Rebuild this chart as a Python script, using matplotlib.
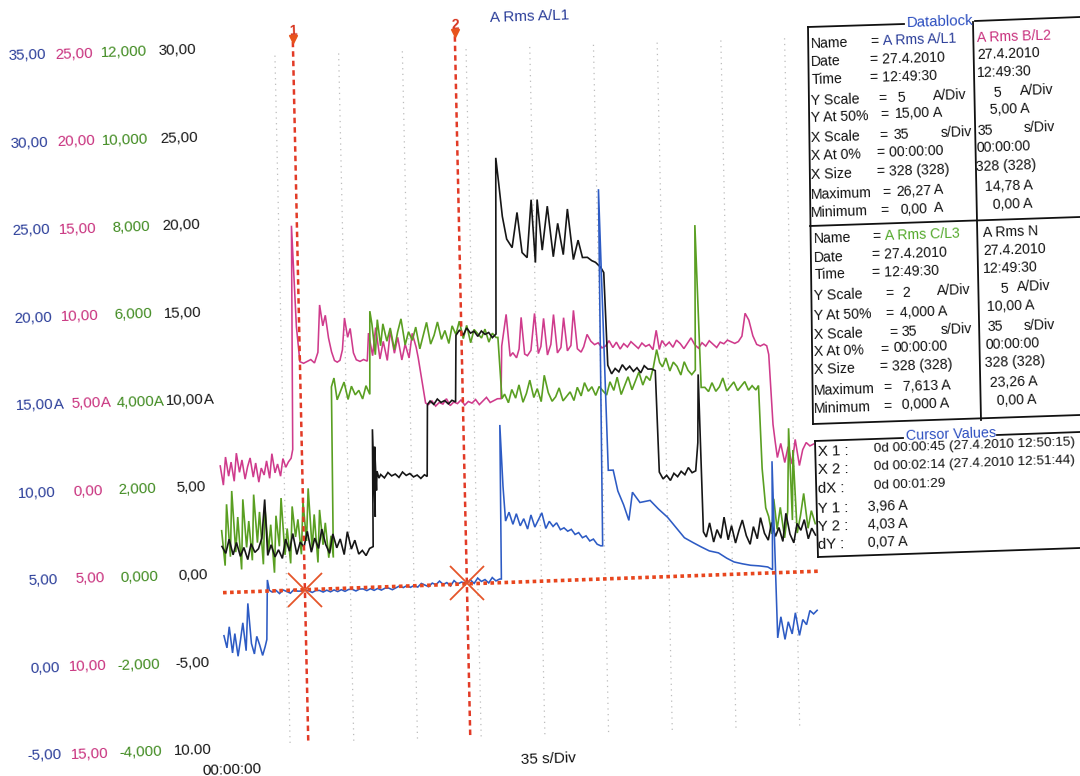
import numpy as np
import matplotlib
matplotlib.use("Agg")
import matplotlib.pyplot as plt
from matplotlib.transforms import Affine2D, blended_transform_factory, IdentityTransform
from matplotlib.lines import Line2D

plt.rcParams['font.family'] = ['Liberation Sans', 'DejaVu Sans']

W, H = 1080, 776

# ---------------- data (time in s, value in A) ----------------
L1 = [(0,1.5),(1.5,0.8),(3,2.0),(4.5,0.5),(6,1.6),(7.5,0.3),(9,1.2),(10.5,2.2),(12,0.6),(13.5,3.3),
      (15,1.0),(16.5,0.4),(18,1.4),(19.5,0.9),(21,0.3),(22.5,0.8),(23.5,1.2),(24.5,4.6),(25.5,4.0),
      (27,3.9),(29,4.0),(31,3.8),(33,4.0),(35,3.9),(37,3.8),(39,4.0),(41,3.9),(43,3.9),(45,3.96),
      (47,3.9),(49,3.8),(51,3.9),(53,3.9),(55,3.8),(57,3.9),(59,3.8),(61,3.9),(63,3.8),(65,3.9),
      (67,3.8),(69,3.9),(71,3.9),(73,3.8),(75,3.9),(77,3.9),(79,3.8),(81,3.9),(83,3.8),(85,3.9),
      (87,3.8),(89,3.9),(91,3.9),(93,3.8),(95,3.9),(97,4.0),(99,3.9),(101,4.0),(103,3.9),(105,4.0),
      (107,3.9),(109,4.1),(111,4.0),(113,3.9),(115,4.1),(117,4.0),(119,4.2),(121,4.0),(123,4.1),
      (125,3.9),(127,4.2),(129,4.0),(131,4.1),(134,4.03),(136,4.2),(138,4.0),(140,4.3),(142,4.1),
      (144,4.2),(146,4.0),(148,4.3),(150,4.1),(152,4.2),(153,4.2),(154,13.0),(155,9.5),(156,7.5),
      (158,8.0),(160,7.3),(162,7.9),(164,7.2),(166,7.6),(168,7.0),(170,7.8),(172,7.1),(174,7.5),
      (176,7.9),(178,7.0),(180,7.4),(182,7.1),(184,7.3),(186,6.9),(188,7.0),(190,6.8),(192,6.9),
      (194,6.6),(196,6.7),(198,6.4),(200,6.5),(202,6.2),(204,6.3),(206,6.0),(208,5.9),(209,5.9),
      (211,26.27),(213,10.2),(215.7,10.2),(218,9.0),(221,8.2),(223.7,7.3),(226,8.9),(230,8.3),
      (235.6,8.4),(240,7.9),(245,7.4),(249.5,6.8),(254,6.2),(258.8,5.9),(263,5.65),(267.5,5.4),
      (272.5,5.27),(277,4.95),(281,4.72),(285.5,4.6),(290,4.5),(294.6,4.45),(299.4,4.37),(302,4.2),
      (303,10.4),(304,0.3),(306,1.5),(308,0.2),(310,1.2),(312,0.5),(314,1.7),(316,0.4),(318,1.3),
      (320,1.0),(322,1.8),(324,1.6),(326,1.8)]

L2 = [(0,1.2),(1.5,0.1),(3,1.7),(4.5,0.6),(6,1.4),(7.5,0.3),(9,1.9),(10.5,0.8),(12,1.5),(13.5,0.4),
      (15,1.1),(16.5,1.6),(18,0.5),(19.5,1.3),(21,0.2),(22.5,1.0),(24,0.6),(25.5,1.4),(27,0.4),
      (28.5,1.8),(30,0.7),(31.5,1.2),(33,0.5),(34.5,1.5),(36,1.0),(37.5,1.3),(39,1.5),(40,2.0),
      (42,14.78),(43.5,9.0),(45,7.0),(47,6.9),(49,7.0),(51,7.1),(53,6.9),(55,7.5),(56.5,10.2),
      (58,9.0),(59.5,9.6),(61,8.3),(62.5,7.5),(64,7.0),(65.5,6.9),(67,7.0),(68.5,7.6),(70,9.4),
      (71.5,8.3),(73,8.8),(74.5,7.4),(76,7.0),(78,6.9),(80,7.0),(82,6.9),(83,8.5),(85,7.2),(87,8.8),
      (89,7.0),(91,8.0),(93,6.9),(95,8.6),(97,7.3),(99,8.2),(101,6.9),(103,7.8),(105,7.0),(107,8.4),
      (109,7.6),(110,7.0),(112,5.5),(113.5,4.4),(115,4.3),(117,4.5),(119,4.2),(121,4.4),(123,4.3),
      (125,4.6),(127,4.2),(129,4.4),(131,4.3),(133,4.5),(135,4.2),(137,4.4),(139,4.3),(141,4.5),
      (143,4.2),(145,4.4),(147,4.6),(149,4.3),(151,4.4),(153,4.5),(155,4.5),(156,7.5),(158.8,9.3),
      (160.5,6.9),(162,7.1),(164,6.8),(165.5,7.3),(167,9.1),(168.5,7.0),(170,6.9),(172,7.2),
      (174.4,9.3),(176,7.0),(177.5,7.4),(179.3,9.0),(181,6.9),(183,7.5),(184.8,9.2),(186.5,7.0),
      (188.5,7.3),(190.3,9.0),(192,7.1),(194,7.4),(195.8,9.4),(197.5,7.2),(199.5,7.0),(201,7.3),
      (203,8.0),(205,7.6),(207,7.4),(209,7.5),(211,7.2),(213,7.3),(215,7.6),(217,7.2),(219,7.5),
      (221,7.1),(223,7.4),(225,7.2),(227,7.5),(229,7.3),(231,7.1),(233,7.4),(235,7.2),(237,7.3),
      (239,7.0),(241,8.1),(242.5,7.0),(244,7.5),(246,7.2),(248,7.4),(250,7.1),(252,7.5),(254,7.3),
      (256,7.0),(258,7.3),(260,7.6),(262,7.2),(264,7.0),(266,7.3),(268,7.1),(270,7.4),(272,7.2),
      (274,7.0),(276,7.3),(278,7.2),(280,7.4),(282,7.3),(284,7.2),(286,7.3),(288,7.6),(290,8.9),
      (292,8.5),(294,7.6),(296,7.1),(298,7.0),(300,7.1),(301.5,7.0),(302.5,6.5),(304,2.5),(305,1.5),
      (306,0.6),(308,1.4),(310,0.3),(312,1.2),(314,0.2),(316,1.6),(318,0.1),(320,1.0),(322,1.4),
      (324,1.2),(326,1.3)]

L3 = [(0,1.0),(1.5,0.2),(3,1.6),(4.5,0.4),(6,1.9),(7.5,0.5),(9,1.3),(10.5,0.1),(12,1.7),(13.5,0.6),
      (15,1.2),(16.5,0.3),(18,1.8),(19.5,0.7),(21,1.4),(22.5,0.2),(24,1.5),(25.5,0.5),(27,1.1),
      (28.5,0.0),(30,1.3),(31.5,0.6),(33,1.7),(34.5,0.4),(36,1.0),(37.5,0.2),(39,1.5),(40.5,0.8),
      (42,1.2),(43.5,0.4),(45,1.6),(46.5,0.7),(48,1.9),(49.5,0.5),(51,1.3),(52.5,0.2),(54,1.4),
      (55.5,0.6),(57,1.1),(58.5,0.3),(60,0.8),(61,0.3),(62,4.2),(63.5,4.4),(65,3.9),(67,4.1),
      (69,4.3),(71,3.9),(73,4.2),(75,4.0),(77,4.1),(79,3.9),(81,4.2),(83,4.0),(84,5.9),(85,5.6),
      (86.5,4.9),(88,5.7),(89.5,5.1),(91,5.6),(93,5.2),(95,5.5),(97,5.0),(99,5.4),(101,5.7),(103,5.1),
      (105,5.4),(107,5.2),(109,5.5),(111,5.0),(113,5.3),(115,5.6),(117,5.1),(119,5.3),(121,5.6),
      (123,5.2),(125,5.4),(127,5.1),(129,5.5),(131,5.3),(133,5.6),(135,5.2),(137,5.5),(139,5.1),
      (141,5.4),(143,5.3),(145,5.2),(147,5.4),(149,5.1),(151,5.3),(153,5.2),(154,5.2),(155.5,3.8),
      (157,3.9),(159,3.7),(161,4.0),(163,3.8),(165,4.1),(167,3.7),(169,3.9),(171,4.2),(173,3.8),
      (175,4.0),(177,3.7),(179,4.3),(181,3.9),(183,3.7),(185,3.8),(187,4.0),(189,3.7),(191,3.8),
      (193,3.9),(195,3.7),(197,4.0),(199,3.8),(201,4.1),(203,3.9),(205,4.0),(207,3.8),(209,4.0),
      (211,3.9),(213,3.8),(215,4.1),(217,3.9),(219,4.2),(221,3.8),(223,4.0),(225,4.2),(227,3.9),
      (229,4.1),(231,4.3),(233,4.0),(235,4.2),(237,4.1),(239,4.4),(241,4.8),(242.5,4.5),(244,4.4),
      (246,4.6),(248,4.3),(250,4.5),(252,4.4),(254,4.2),(256,4.5),(258,4.3),(260,4.2),(262,4.3),
      (263.5,7.613),(265,3.9),(267,3.9),(269,3.8),(271,4.0),(273,3.8),(275,3.9),(277,4.1),(279,3.8),
      (281,3.9),(283,4.0),(285,3.8),(287,3.9),(289,4.0),(291,3.8),(293,3.9),(295,3.8),(296.5,3.9),
      (297.5,2.0),(299,1.1),(300.5,0.9),(302,0.5),(303.5,1.3),(305,0.6),(307,1.1),(309,0.4),
      (311,1.0),(312.5,2.9),(313.5,0.8),(314.6,2.4),(316,0.5),(318,0.9),(320,1.4),(322,0.6),
      (324,1.0),(326,0.7)]

N = [(0,1.6),(2,1.2),(4,2.0),(6,1.1),(8,1.8),(10,1.0),(12,1.5),(14,0.8),(16,1.7),(18,1.2),(20,1.4),
     (22,2.0),(24,4.2),(25,1.0),(27,1.6),(29,0.9),(31,1.3),(33,0.8),(35,1.9),(37,1.2),(39,2.2),
     (41,1.0),(43,1.7),(45,1.4),(47,2.3),(49,1.1),(51,1.9),(53,1.3),(55,2.4),(57,1.5),(59,1.0),
     (61,2.1),(63,1.3),(65,1.8),(67,0.9),(69,2.2),(71,1.2),(73,1.7),(75,0.9),(77,1.1),(79,0.8),
     (81,1.2),(83,1.3),(84,8.0),(84.5,3.0),(85,7.0),(85.5,4.5),(86,5.6),(87,5.2),(88,5.4),(90,5.2),
     (92,5.5),(94,5.3),(96,5.4),(98,5.2),(100,5.5),(102,5.3),(104,5.4),(106,5.2),(108,5.3),(110,5.1),
     (112,5.3),(113.5,5.2),(114.5,9.3),(116,9.5),(118,9.3),(120,9.6),(122,9.4),(124,9.5),(126,9.3),
     (128,9.5),(130,9.4),(131,13.2),(133,13.5),(135,13.2),(137,13.6),(139,13.3),(141,13.4),
     (143,13.1),(145,13.4),(147,13.2),(149,13.3),(151,13.0),(153,13.2),(155,23.26),(156.3,21.8),
     (157.9,19.9),(160,18.6),(162.9,18.1),(166,20.1),(168.3,17.8),(171,17.5),(173.9,20.8),
     (175.5,17.2),(177.2,20.8),(179.4,17.9),(182.7,20.4),(185.4,17.5),(188.2,19.4),(190.9,17.6),
     (193.7,20.2),(196.4,17.3),(199.2,18.4),(201.4,17.4),(204.1,17.4),(206.5,17.2),(208.5,17.1),
     (211.3,16.8),(212.9,16.5),(214,11.2),(216,10.7),(218,11.0),(220,10.8),(222,11.2),(224,10.9),
     (226,11.1),(228,10.8),(230,11.0),(232,10.7),(234,11.1),(236,10.9),(238,10.9),(240,10.8),
     (241,5.0),(243,4.6),(245,4.8),(247,4.5),(249,4.9),(251,4.7),(253,5.0),(255,4.8),(257,5.2),
     (259,4.9),(261,5.0),(262.5,6.6),(263.5,10.5),(264.5,1.5),(266,1.2),(268,2.0),(270,0.9),
     (272,1.6),(274,1.1),(276,2.3),(278,1.0),(280,1.8),(282,0.8),(284,1.5),(286,2.1),(288,1.2),
     (290,0.7),(292,1.7),(294,1.0),(296,2.2),(298,1.3),(300,0.9),(302,1.9),(304,1.1),(306,1.6),
     (308,0.8),(310,2.4),(312,1.2),(314,0.7),(316,1.8),(318,1.4),(320,2.0),(322,0.9),(324,1.5),
     (326,1.1)]

# channel scales: (A per division, value at 50 %)
SCALES = {'L1': (5, 15.0), 'L2': (5, 5.0), 'L3': (2, 4.0), 'N': (5, 10.0)}

# cursor readings
X1, X2 = 45, 134
Y1, Y2 = 3.96, 4.03

# left-hand tick labels (one column per channel, top to bottom)
DIVS = [8, 7, 6, 5, 4, 3, 2, 1, 0]
TICK_L1 = ['35,00', '30,00', '25,00', '20,00', '15,00', '10,00', '5,00', '0,00', '-5,00']
TICK_L2 = ['25,00', '20,00', '15,00', '10,00', '5,00', '0,00', '5,00', '10,00', '15,00']
TICK_L3 = ['12,000', '10,000', '8,000', '6,000', '4,000', '2,000', '0,000', '-2,000', '-4,000']
TICK_N = ['30,00', '25,00', '20,00', '15,00', '10,00', '5,00', '0,00', '-5,00', '10.00']

C_BLUE, C_PINK, C_GREEN, C_BLACK = '#2d5bc4', '#cf3b8c', '#5a9f22', '#161616'
T_BLUE, T_PINK, T_GREEN = '#2a3d99', '#c8307d', '#3f8a1f'
C_RED = '#e23a26'

# ---------------- figure ----------------
fig = plt.figure(figsize=(W / 100, H / 100), dpi=100)
fig.patch.set_facecolor('white')

PXS = 1.82            # px per second
ax = fig.add_axes([223 / W, 26.5 / H, PXS * 330 / W, 700 / H])
ax.set_xlim(0, 330)
ax.set_ylim(0, 8)
ax.axis('off')

# slight scan skew of the printed page
SK = Affine2D(np.array([[1.0, -0.022, 0.022 * 184], [0.034, 1.0, -0.034 * 222], [0, 0, 1]]))
DT = ax.transData + SK
PX = Affine2D().scale(1, -1).translate(0, H)
ROT = 1.9


def div(ch, v):
    s, y50 = SCALES[ch]
    return 4 + (np.asarray(v, dtype=float) - y50) / s


# vertical grid (35 s/div)
for k in range(1, 10):
    ax.plot([35 * k, 35 * k], [0.05, 7.95], transform=DT, color='#bcbcbc', lw=0.9,
            dashes=(1, 3.5), clip_on=False, zorder=1)

# traces
for ch, data, col, lw, z in [('L2', L2, C_PINK, 1.15, 3), ('L3', L3, C_GREEN, 1.2, 4),
                             ('N', N, C_BLACK, 1.2, 5), ('L1', L1, C_BLUE, 1.15, 6)]:
    t, v = zip(*data)
    ax.plot(t, div(ch, v), transform=DT, color=col, lw=lw, clip_on=False, zorder=z,
            solid_joinstyle='miter')

# cursors
for xc in (X1, X2):
    ax.plot([xc, xc], [0.07, 8.08], transform=DT, color=C_RED, lw=1.8, dashes=(2.2, 1.6),
            clip_on=False, zorder=7)
    ax.plot([xc], [8.09], transform=DT, marker='v', ms=6, color='#e8531c', clip_on=False, zorder=8)
ax.plot([0, 328], div('L1', [Y1, Y2]), transform=DT, color='#e8461e', lw=2.6, dashes=(1.0, 0.95),
        clip_on=False, zorder=7)
ax.plot([X1, X2], div('L1', [Y1, Y2]), transform=DT, ls='none', marker='x', ms=25, mew=1.3,
        color='#e5552a', clip_on=False, zorder=8)
for xc, lab in ((X1, '1'), (X2, '2')):
    ax.text(xc, 8.10, lab, transform=DT, color='#d8351f', fontsize=10, fontweight='bold',
            ha='center', va='bottom', rotation=ROT)

# left tick label columns
BT = blended_transform_factory(IdentityTransform(), ax.transData) + SK
for xr, labels, col in [(58, TICK_L1, T_BLUE), (105, TICK_L2, T_PINK),
                        (158.5, TICK_L3, T_GREEN), (208, TICK_N, C_BLACK)]:
    for d, lab in zip(DIVS, labels):
        fig.text(xr, d, lab, transform=BT, color=col, fontsize=10.8, ha='right', va='center',
                 rotation=ROT, rotation_mode='anchor')
        if d == 4:
            fig.text(xr, d, 'A', transform=BT, color=col, fontsize=10.8, ha='left',
                     va='center', rotation=ROT, rotation_mode='anchor')

FS = 10.2


def T(x, y, s, color='#111111', size=FS, ha='left', **kw):
    fig.text(x, y, s, transform=PX, color=color, fontsize=size, ha=ha, va='center',
             rotation=ROT, rotation_mode='anchor', **kw)


def L(x0, y0, x1, y1, lw=1.3):
    fig.add_artist(Line2D([x0, x1], [y0, y1], transform=PX, color='#111111', lw=lw))


T(490, 18, 'A Rms A/L1', color=T_BLUE, size=11)
T(521, 760, '35 s/Div', size=11)
T(202, 771, '00:00:00', size=11)

# ---------------- Datablock ----------------
L(808, 27, 904, 24); L(975, 21, 1080, 17)
L(808, 27, 813, 424); L(813, 424, 1080, 415)
L(810, 226, 1080, 217); L(973, 22, 981, 420)
T(907, 23, 'Datablock', color='#2d4fc0', size=10.8)

rows_top = ['Name', 'Date', 'Time', 'Y Scale', 'Y At 50%', 'X Scale', 'X At 0%', 'X Size',
            'Maximum', 'Minimum']
ys_top = [44, 62, 80, 101, 118, 138, 156, 175, 195, 213]
ys_bot = [239, 258, 275, 296, 316, 335, 352, 370, 391, 409]
for lab, y in zip(rows_top, ys_top):
    T(811, y, lab)
for lab, y in zip(rows_top, ys_bot):
    T(814, y, lab)

# upper left values
T(870, 42, '=')
T(883, 41, 'A Rms A/L1', color=T_BLUE)
T(870, 60, '= 27.4.2010')
T(870, 78, '= 12:49:30')
T(878, 99, '='); T(897, 98, '5'); T(933, 96, 'A/Div')
T(880, 115, '='); T(895, 114, '15,00'); T(933, 113, 'A')
T(879, 136, '='); T(893, 135, '35'); T(940, 133, 's/Div')
T(877, 153, '= 00:00:00')
T(877, 172, '= 328 (328)')
T(882, 193, '='); T(896, 192, '26,27'); T(934, 190, 'A')
T(880, 211, '='); T(900, 210, '0,00'); T(934, 208, 'A')
# upper right values
T(977, 38, 'A Rms B/L2', color=T_PINK)
T(977, 55, '27.4.2010')
T(977, 73, '12:49:30')
T(993, 93, '5'); T(1020, 91, 'A/Div')
T(990, 110, '5,00 A')
T(977, 131, '35'); T(1023, 128, 's/Div')
T(976, 148, '00:00:00')
T(976, 167, '328 (328)')
T(985, 187, '14,78 A')
T(993, 205, '0,00 A')
# lower left values
T(872, 237, '=')
T(885, 236, 'A Rms C/L3', color='#52a82a')
T(872, 255, '= 27.4.2010')
T(872, 273, '= 12:49:30')
T(885, 294, '='); T(902, 293, '2'); T(937, 291, 'A/Div')
T(885, 314, '='); T(900, 313, '4,000 A')
T(889, 333, '='); T(901, 332, '35'); T(940, 330, 's/Div')
T(880, 350, '='); T(893, 348, '00:00:00')
T(880, 367, '= 328 (328)')
T(883, 388, '='); T(903, 387, '7,613 A')
T(883, 407, '='); T(902, 405, '0,000 A')
# lower right values
T(983, 233, 'A Rms N')
T(983, 251, '27.4.2010')
T(983, 269, '12:49:30')
T(1000, 289, '5'); T(1017, 287, 'A/Div')
T(987, 307, '10,00 A')
T(987, 327, '35'); T(1023, 326, 's/Div')
T(985, 345, '00:00:00')
T(985, 363, '328 (328)')
T(990, 383, '23,26 A')
T(997, 401, '0,00 A')

# ---------------- Cursor Values ----------------
L(815, 441, 903, 438); L(997, 435, 1080, 432)
L(815, 441, 818, 557); L(818, 557, 1080, 548)
T(906, 436, 'Cursor Values', color='#2d4fc0', size=10.4)
for lab, y in zip(['X 1 :', 'X 2 :', 'dX :', 'Y 1 :', 'Y 2 :', 'dY :'],
                  [452, 470, 489, 509, 527, 545]):
    T(818, y, lab, size=10.8)


def fmt(v):
    return f'{v:.2f} A'.replace('.', ',')


T(874, 449, '0d 00:00:45 (27.4.2010 12:50:15)', size=9.7)
T(874, 467, '0d 00:02:14 (27.4.2010 12:51:44)', size=9.7)
T(874, 486, '0d 00:01:29', size=9.7)
T(868, 507, fmt(Y1))
T(868, 525, fmt(Y2))
T(868, 543, fmt(Y2 - Y1))

fig.savefig('out.png', dpi=100, facecolor='white')
